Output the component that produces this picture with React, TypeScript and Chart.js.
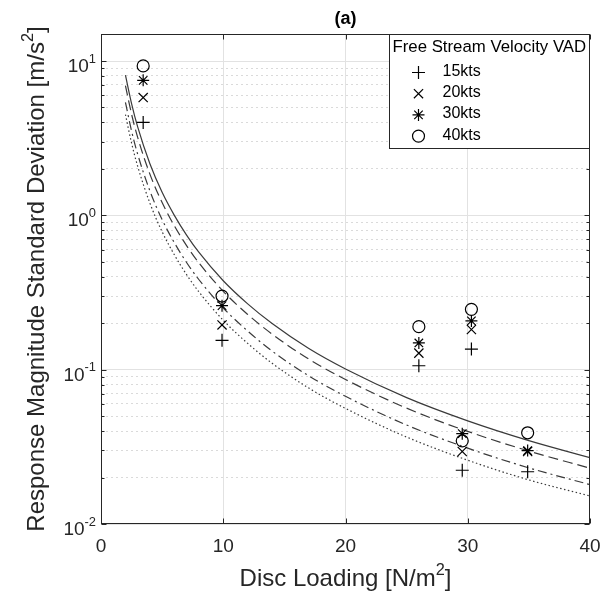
import React, { useEffect, useRef } from 'react';
import { Chart, registerables } from 'chart.js';
import { drawPoint } from 'chart.js/helpers';

Chart.register(...registerables);

// ---- data ----
const fitX = [2, 2.5, 3, 4, 5, 6, 7, 8, 10, 12, 14, 17, 20, 25, 30, 35, 40];
const fitSolid = [8.1, 5.3, 3.74, 2.16, 1.41, 1.0, 0.745, 0.577, 0.377, 0.267, 0.199, 0.137, 0.101, 0.0659, 0.0466, 0.0347, 0.0269];
const fitDashed = [6.93, 4.53, 3.2, 1.85, 1.21, 0.855, 0.637, 0.493, 0.322, 0.228, 0.17, 0.117, 0.0864, 0.0563, 0.0398, 0.0297, 0.023];
const fitDashDot = [5.39, 3.52, 2.49, 1.44, 0.938, 0.665, 0.495, 0.384, 0.251, 0.178, 0.132, 0.0911, 0.0672, 0.0438, 0.031, 0.0231, 0.018];
const fitDotted = [4.5, 2.94, 2.08, 1.2, 0.783, 0.555, 0.413, 0.32, 0.209, 0.148, 0.11, 0.076, 0.0561, 0.0366, 0.0259, 0.0193, 0.0152];

const discLoading = [3.45, 9.9, 26.0, 29.55, 30.3, 34.9];
const kts15 = [4.0, 0.155, 0.106, 0.0223, 0.136, 0.0218];
const kts20 = [5.8, 0.195, 0.128, 0.0295, 0.182, 0.0295];
const kts30 = [7.5, 0.26, 0.149, 0.0385, 0.207, 0.0299];
const kts40 = [9.3, 0.3, 0.19, 0.0346, 0.246, 0.039];

const seriesLabels = ['15kts', '20kts', '30kts', '40kts'];
const legendTitle = 'Free Stream Velocity VAD';
const chartTitle = '(a)';
const xTickValues = [0, 10, 20, 30, 40];
const yDecades = [-2, -1, 0, 1];
const X_MIN = 0;
const X_MAX = 40;
const Y_MIN = 0.01;
const Y_MAX = 14.97;

const FONT = 'Arial, "Liberation Sans", Helvetica, sans-serif';
const AXIS = '#262626';
const CURVE = '#3a3a3a';

const markerStyles: any[] = [
  { pointStyle: 'cross', radius: 6.5 },
  { pointStyle: 'crossRot', radius: 6.5 },
  { pointStyle: 'star', radius: 6 },
  { pointStyle: 'circle', radius: 6 },
];

const yTickList: number[] = [];
yDecades.forEach((d) => {
  for (let m = 1; m <= 9; m++) {
    const v = m * Math.pow(10, d);
    if (v <= Y_MAX * 1.0001) yTickList.push(v);
  }
});

const isDecade = (v: number) => Math.abs(Math.log10(v) - Math.round(Math.log10(v))) < 1e-6;

function drawSup(
  ctx: CanvasRenderingContext2D,
  parts: [string, boolean][],
  x: number,
  y: number,
  align: 'left' | 'right' | 'center',
  size: number,
  supScale = 0.7,
  raise = 0.42
) {
  const supSize = size * supScale;
  const widths = parts.map(([t, s]) => {
    ctx.font = `${s ? supSize : size}px ${FONT}`;
    return ctx.measureText(t).width;
  });
  const total = widths.reduce((a, b) => a + b, 0);
  let cx = align === 'left' ? x : align === 'right' ? x - total : x - total / 2;
  ctx.textAlign = 'left';
  ctx.textBaseline = 'alphabetic';
  parts.forEach(([t, s], i) => {
    ctx.font = `${s ? supSize : size}px ${FONT}`;
    ctx.fillText(t, cx, s ? y - size * raise : y);
    cx += widths[i];
  });
}

const decorPlugin = {
  id: 'decor',
  afterDraw(chart: any) {
    const { ctx, chartArea: ca, scales } = chart;
    const xs = scales.x;
    const ys = scales.y;
    const L = Math.round(ca.left) + 0.5;
    const R = Math.round(ca.right) - 0.5;
    const T = Math.round(ca.top) + 0.5;
    const B = Math.round(ca.bottom) - 0.5;
    ctx.save();
    ctx.strokeStyle = AXIS;
    ctx.lineWidth = 1;
    ctx.setLineDash([]);
    ctx.strokeRect(L, T, R - L, B - T);

    // ticks
    ctx.beginPath();
    xTickValues.forEach((v) => {
      const px = Math.round(xs.getPixelForValue(v)) + 0.5;
      ctx.moveTo(px, B);
      ctx.lineTo(px, B - 5);
      ctx.moveTo(px, T);
      ctx.lineTo(px, T + 5);
    });
    yTickList.forEach((v) => {
      const py = Math.round(ys.getPixelForValue(v)) + 0.5;
      const len = isDecade(v) ? 5 : 3;
      ctx.moveTo(L, py);
      ctx.lineTo(L + len, py);
      ctx.moveTo(R, py);
      ctx.lineTo(R - len, py);
    });
    ctx.stroke();

    ctx.fillStyle = AXIS;
    // x tick labels
    ctx.font = `19px ${FONT}`;
    ctx.textAlign = 'center';
    ctx.textBaseline = 'middle';
    xTickValues.forEach((v) => {
      ctx.fillText(String(v), xs.getPixelForValue(v), ca.bottom + 23);
    });
    // y tick labels
    yDecades.forEach((d) => {
      const py = ys.getPixelForValue(Math.pow(10, d));
      drawSup(ctx, [['10', false], [String(d), true]], ca.left - 5, py + 11, 'right', 19, 0.68, 0.5);
    });

    // x axis title
    drawSup(ctx, [['Disc Loading [N/m', false], ['2', true], [']', false]], (ca.left + ca.right) / 2, ca.bottom + 62, 'center', 24, 0.68, 0.45);
    // y axis title
    ctx.save();
    ctx.translate(44, (ca.top + ca.bottom) / 2);
    ctx.rotate(-Math.PI / 2);
    drawSup(ctx, [['Response Magnitude Standard Deviation [m/s', false], ['2', true], [']', false]], 0, 0, 'center', 24, 0.68, 0.45);
    ctx.restore();

    // title
    ctx.font = `bold 18px ${FONT}`;
    ctx.textAlign = 'center';
    ctx.textBaseline = 'middle';
    ctx.fillStyle = '#000';
    ctx.fillText(chartTitle, (ca.left + ca.right) / 2, 19);

    // legend
    const lx = 389.5;
    const ly = T;
    const lw = R - lx;
    const lh = 114;
    ctx.fillStyle = '#fff';
    ctx.fillRect(lx, ly, lw, lh);
    ctx.strokeStyle = AXIS;
    ctx.strokeRect(lx, ly, lw, lh);
    ctx.fillStyle = '#000';
    ctx.font = `16.8px ${FONT}`;
    ctx.textAlign = 'left';
    ctx.textBaseline = 'middle';
    ctx.fillText(legendTitle, lx + 3, ly + 13);
    seriesLabels.forEach((lab, i) => {
      const yy = ly + 37 + i * 21.2;
      ctx.fillStyle = '#000';
      ctx.font = `16px ${FONT}`;
      ctx.fillText(lab, lx + 53, yy);
      ctx.strokeStyle = '#000';
      ctx.fillStyle = 'rgba(0,0,0,0)';
      ctx.lineWidth = 1.2;
      drawPoint(ctx, { ...markerStyles[i], borderWidth: 1.2, rotation: 0 }, lx + 29, yy + 1);
    });
    ctx.restore();
  },
};

export default function App() {
  const ref = useRef<HTMLCanvasElement | null>(null);
  useEffect(() => {
    if (!ref.current) return;
    const lineDs = (data: number[], dash: number[]) => ({
      type: 'line' as const,
      data: fitX.map((x, i) => ({ x, y: data[i] })),
      borderColor: CURVE,
      borderWidth: 1.2,
      borderDash: dash,
      pointRadius: 0,
      cubicInterpolationMode: 'monotone' as const,
      fill: false,
    });
    const ptsDs = (vals: number[], i: number) => ({
      type: 'line' as const,
      label: seriesLabels[i],
      data: discLoading.map((x, j) => ({ x, y: vals[j] })),
      showLine: false,
      pointStyle: markerStyles[i].pointStyle,
      pointRadius: markerStyles[i].radius,
      pointBorderColor: '#000',
      pointBackgroundColor: 'rgba(0,0,0,0)',
      pointBorderWidth: 1.2,
      pointHoverRadius: markerStyles[i].radius,
    });
    const chart = new Chart(ref.current, {
      type: 'line',
      data: {
        datasets: [
          ptsDs(kts15, 0),
          ptsDs(kts20, 1),
          ptsDs(kts30, 2),
          ptsDs(kts40, 3),
          lineDs(fitSolid, []),
          lineDs(fitDashed, [10, 5]),
          lineDs(fitDashDot, [9, 4, 2, 4]),
          lineDs(fitDotted, [1.5, 2.5]),
        ] as any,
      },
      options: {
        animation: false,
        responsive: true,
        maintainAspectRatio: false,
        layout: { padding: { left: 101, right: 26, top: 34, bottom: 84 } },
        plugins: { legend: { display: false }, tooltip: { enabled: false }, title: { display: false } },
        scales: {
          x: {
            type: 'linear',
            min: X_MIN,
            max: X_MAX,
            afterBuildTicks: (s: any) => {
              s.ticks = xTickValues.map((v) => ({ value: v }));
            },
            ticks: { display: false },
            grid: {
              drawTicks: false,
              color: (c: any) => (c.tick && (c.tick.value === X_MIN || c.tick.value === X_MAX) ? 'rgba(0,0,0,0)' : '#e2e2e2'),
              lineWidth: 1,
            },
            border: { display: false },
          },
          y: {
            type: 'logarithmic',
            min: Y_MIN,
            max: Y_MAX,
            afterBuildTicks: (s: any) => {
              s.ticks = yTickList.map((v) => ({ value: v }));
            },
            ticks: { display: false },
            grid: {
              drawTicks: false,
              color: (c: any) => (c.tick && isDecade(c.tick.value) ? '#e2e2e2' : '#dadada'),
              lineWidth: 1,
            },
            border: {
              display: false,
              dash: (c: any) => (c.tick && !isDecade(c.tick.value) ? [2, 3] : []),
            },
          },
        },
      },
      plugins: [decorPlugin],
    } as any);
    return () => chart.destroy();
  }, []);
  return (
    <div style={{ position: 'absolute', left: 0, top: 0, width: 616, height: 608, background: '#fff' }}>
      <canvas ref={ref} />
    </div>
  );
}
